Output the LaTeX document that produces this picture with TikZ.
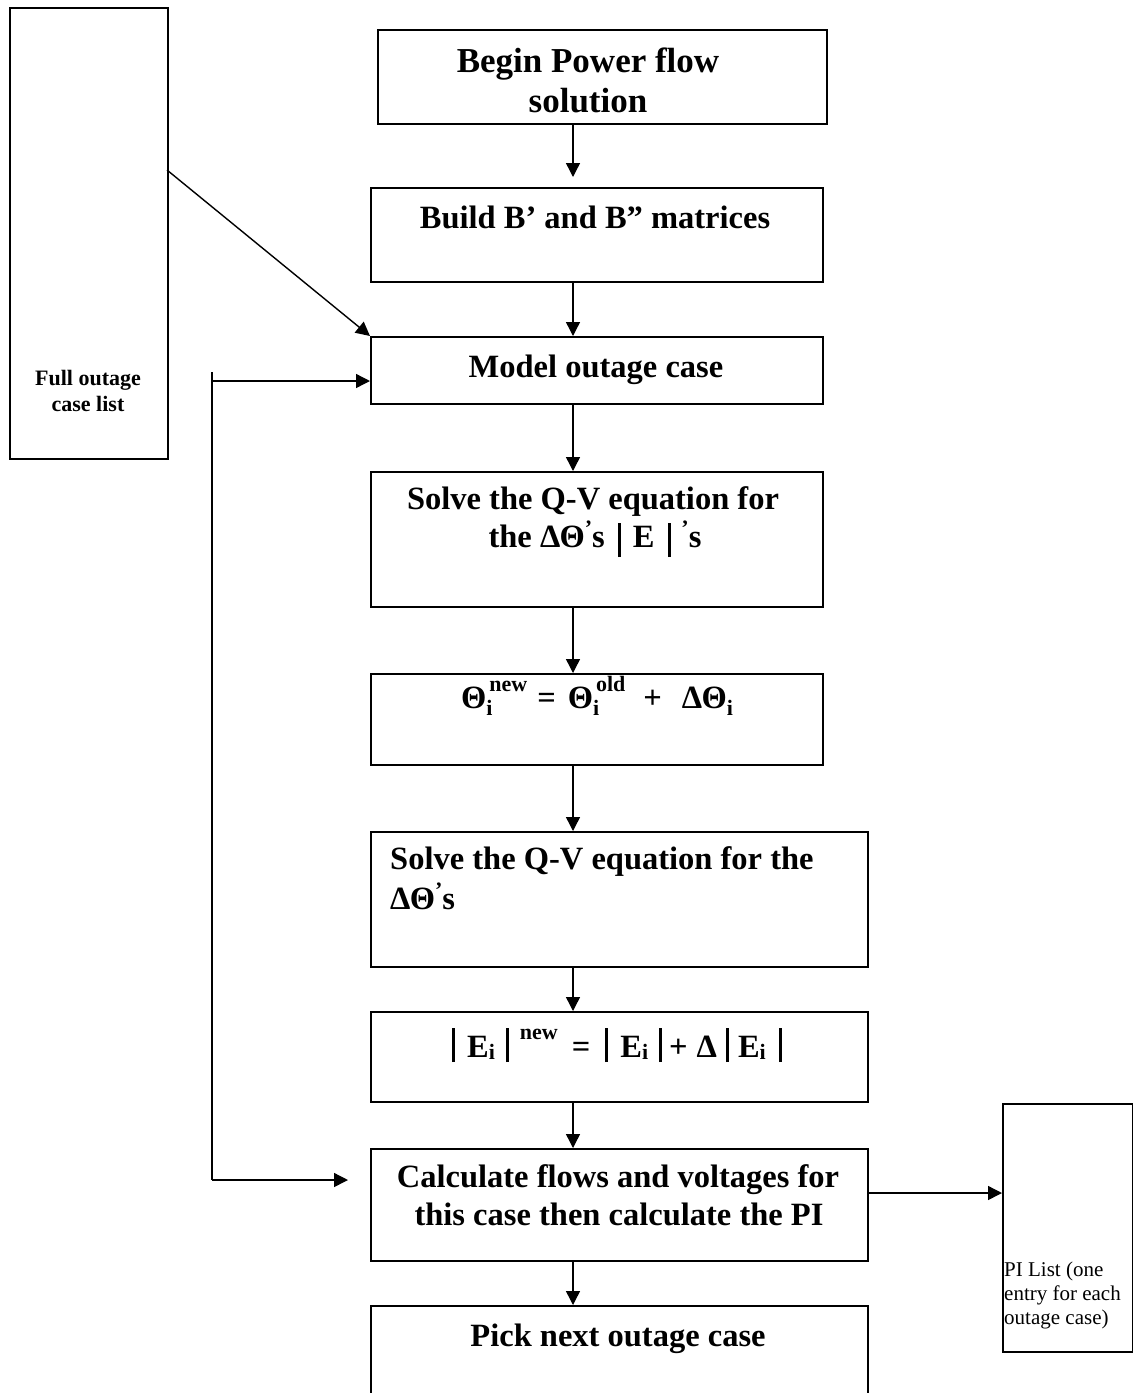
\documentclass[tikz,border=0pt]{standalone}
\usepackage{fontspec}
\setmainfont{Liberation Serif}
\usetikzlibrary{arrows.meta,calc}

% type sizes used in the flowchart
\newcommand\flowfont{\fontsize{32.5}{40}\selectfont\bfseries}
\newcommand\headfont{\fontsize{35}{40}\selectfont\bfseries}
\newcommand\smallbold{\fontsize{22}{22}\selectfont\bfseries}
\newcommand\listfont{\fontsize{22}{26}\selectfont\bfseries}
\newcommand\pifont{\fontsize{21}{24}\selectfont}
% sub/superscripts and the magnitude bars
\newcommand\subsup[2]{\rlap{\raisebox{-7pt}{\smallbold #1}}\hspace{3pt}\raisebox{17pt}{\smallbold #2}}
\newcommand\subonly[1]{\raisebox{-7pt}{\smallbold #1}}
\newcommand\subtiny[1]{\raisebox{-2pt}{\smallbold #1}}
\newcommand\magbar{\rule[-5pt]{3pt}{34pt}}
\newcommand\lowbar{\rule[-10pt]{3pt}{34pt}}
\newcommand\primesup{\raisebox{0.35em}{\smallbold ’}}

\tikzset{
  box/.style={draw, line width=1.6pt, rectangle, inner sep=0pt, anchor=north west},
  txt/.style={anchor=base, inner sep=0pt, font=\flowfont},
  txtl/.style={anchor=base west, inner sep=0pt, font=\flowfont},
  ln/.style={line width=1.4pt},
  arr/.style={line width=1.4pt, -{Triangle[length=14pt,width=14pt]}},
}

\begin{document}
\begin{tikzpicture}[x=1pt, y=-1pt]
\clip (0,0) rectangle (1133,1393);
\fill[white] (0,0) rectangle (1133,1393);

% boxes of the main column
\node[box, minimum width=449pt, minimum height=94pt]  (n1) at (377,29)   {};
\node[box, minimum width=452pt, minimum height=94pt]  (n2) at (370,187)  {};
\node[box, minimum width=452pt, minimum height=67pt]  (n3) at (370,336)  {};
\node[box, minimum width=452pt, minimum height=135pt] (n4) at (370,471)  {};
\node[box, minimum width=452pt, minimum height=91pt]  (n5) at (370,673)  {};
\node[box, minimum width=497pt, minimum height=135pt] (n6) at (370,831)  {};
\node[box, minimum width=497pt, minimum height=90pt]  (n7) at (370,1011) {};
\node[box, minimum width=497pt, minimum height=112pt] (n8) at (370,1148) {};
\node[box, minimum width=497pt, minimum height=110pt] (n9) at (370,1305) {};

% side lists
\node[box, minimum width=158pt, minimum height=451pt] (L)  at (9,7)      {};
\node[box, minimum width=130pt, minimum height=248pt] (PI) at (1002,1103) {};

% box texts
\node[txt, font=\headfont] (t1a) at (588,72)  {Begin Power flow};
\node[txt, font=\headfont] (t1b) at (588,112) {solution};
\node[txt] (t2)  at (595,228) {Build B’ and B” matrices};
\node[txt] (t3)  at (596,377) {Model outage case};
\node[txt] (t4a) at (593,509) {Solve the Q-V equation for};
\node[txt] (t4b) at (595,547) {the ΔΘ\primesup s\hspace{13pt}\lowbar\hspace{12pt}E\hspace{14pt}\lowbar\hspace{10pt}\primesup s};
\node[txt] (t5)  at (597,708) {Θ\subsup{i}{new}\hspace{10pt}=\hspace{12pt}Θ\subsup{i}{old}\hspace{18pt}+\hspace{20pt}ΔΘ\subonly{i}};
\node[txtl] (t6a) at (390,869) {Solve the Q-V equation for the};
\node[txtl] (t6b) at (390,909) {ΔΘ\primesup s};
\node[txt] (t7)  at (617,1057) {\magbar\hspace{12pt}E\subtiny{i}\hspace{11pt}\magbar\hspace{11pt}\raisebox{18pt}{\smallbold new}\hspace{14pt}=\hspace{15pt}\magbar\hspace{12pt}E\subtiny{i}\hspace{11pt}\magbar\hspace{7pt}+\hspace{9pt}Δ\hspace{9pt}\magbar\hspace{9pt}E\subtiny{i}\hspace{13pt}\magbar};
\node[txt] (t8a) at (618,1187) {Calculate flows and voltages for};
\node[txt] (t8b) at (619,1225) {this case then calculate the PI};
\node[txt] (t9)  at (618,1346) {Pick next outage case};
\node[anchor=base, inner sep=0pt, font=\listfont] (tLa) at (88,385) {Full outage};
\node[anchor=base, inner sep=0pt, font=\listfont] (tLb) at (88,411) {case list};
\node[anchor=base west, inner sep=0pt, font=\pifont] (tPa) at (1004,1276) {PI List (one};
\node[anchor=base west, inner sep=0pt, font=\pifont] (tPb) at (1004,1300) {entry for each};
\node[anchor=base west, inner sep=0pt, font=\pifont] (tPc) at (1004,1324) {outage case)};

% connectors down the main column
\coordinate (ax) at (573,0);
\draw[arr] (ax |- n1.south) -- ($(ax |- n2.north)+(0,-10)$);
\draw[arr] (ax |- n2.south) -- (ax |- n3.north);
\draw[arr] (ax |- n3.south) -- (ax |- n4.north);
\draw[arr] (ax |- n4.south) -- (ax |- n5.north);
\draw[arr] (ax |- n5.south) -- (ax |- n6.north);
\draw[arr] (ax |- n6.south) -- (ax |- n7.north);
\draw[arr] (ax |- n7.south) -- (ax |- n8.north);
\draw[arr] (ax |- n8.south) -- (ax |- n9.north);

% outage list feeds the model step
\coordinate (dsrc) at (167,170);
\draw[arr] (dsrc) -- (n3.north west);

% loop back for the next outage case
\coordinate (lt) at (212,372);
\coordinate (lk) at (212,381);
\coordinate (lc) at (212,1180);
\coordinate (le) at (348,1180);
\draw[ln] (lt) -- (lc);
\draw[arr] (lc) -- (le);
\draw[arr] (lk) -- (lk -| n3.west);

% result goes to the PI list
\coordinate (pa) at (0,1193);
\draw[arr] (n8.east |- pa) -- (PI.west |- pa);
\end{tikzpicture}
\end{document}
